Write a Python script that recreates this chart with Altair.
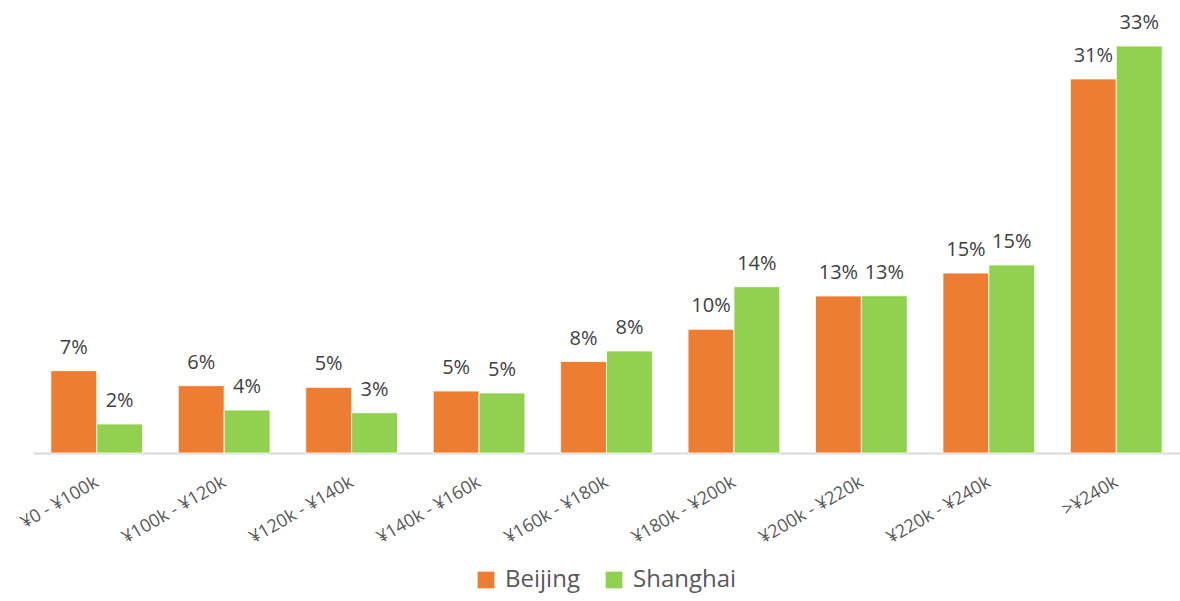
import altair as alt
import pandas as pd

categories = ["¥0 - ¥100k", "¥100k - ¥120k", "¥120k - ¥140k", "¥140k - ¥160k",
              "¥160k - ¥180k", "¥180k - ¥200k", "¥200k - ¥220k", "¥220k - ¥240k", ">¥240k"]
beijing = [6.75, 5.52, 5.38, 5.08, 7.5, 10.14, 12.87, 14.75, 30.66]
shanghai = [2.38, 3.52, 3.30, 4.92, 8.36, 13.63, 12.89, 15.41, 33.36]
beijing_labels = ["7%", "6%", "5%", "5%", "8%", "10%", "13%", "15%", "31%"]
shanghai_labels = ["2%", "4%", "3%", "5%", "8%", "14%", "13%", "15%", "33%"]
series = ["Beijing", "Shanghai"]
colors = ["#ED7D31", "#92D050"]

rows = []
for i, c in enumerate(categories):
    rows.append({"cat": c, "city": "Beijing", "v": beijing[i], "lab": beijing_labels[i]})
    rows.append({"cat": c, "city": "Shanghai", "v": shanghai[i], "lab": shanghai_labels[i]})
df = pd.DataFrame(rows)

font = "Open Sans"
x = alt.X("cat:N", sort=categories, title=None,
          scale=alt.Scale(paddingInner=0.28, paddingOuter=0.14),
          axis=alt.Axis(labelAngle=-30, labelFontSize=18, labelColor="#595959",
                        labelFont=font, ticks=False, domainColor="#D9D9D9",
                        domainWidth=2, labelPadding=20, labelOffset=-4))
y = alt.Y("v:Q", title=None, scale=alt.Scale(domain=[0, 35], nice=False), axis=None)
xo = alt.XOffset("city:N", sort=series, scale=alt.Scale(paddingInner=0))
color = alt.Color("city:N", sort=series, scale=alt.Scale(domain=series, range=colors),
                  legend=alt.Legend(title=None, orient="none", direction="horizontal",
                                    legendX=441, legendY=542, symbolType="square",
                                    symbolSize=280, symbolStrokeWidth=0,
                                    labelFontSize=24, labelFont=font, labelColor="#595959",
                                    columnPadding=22, labelOffset=7))

bars = alt.Chart(df).mark_bar(stroke="white", strokeWidth=0.8).encode(
    x=x, y=y, xOffset=xo, color=color)
text = alt.Chart(df).mark_text(baseline="bottom", dy=-13, fontSize=20, font=font,
                               color="#404040").encode(
    x=x, y=y, xOffset=xo, text="lab:N")

chart = (bars + text).properties(
    width=1147, height=427, background="white",
    padding={"left": 33, "top": 26, "right": 0, "bottom": 148},
    autosize=alt.AutoSizeParams(type="none")
).configure_view(strokeWidth=0, stroke="transparent")

chart.save("out.html", embed_options={"renderer": "svg", "actions": False})
